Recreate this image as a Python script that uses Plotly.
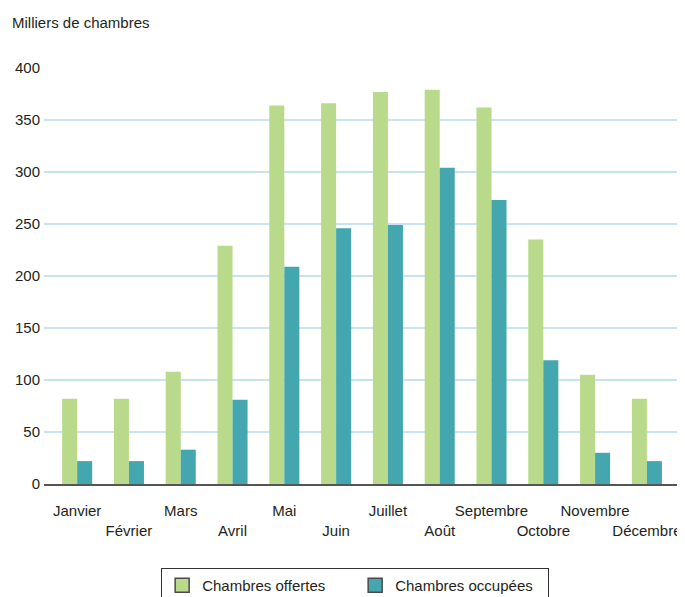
import plotly.graph_objects as go

mois = ["Janvier", "Février", "Mars", "Avril", "Mai", "Juin",
        "Juillet", "Août", "Septembre", "Octobre", "Novembre", "Décembre"]
offertes = [82, 82, 108, 229, 364, 366, 377, 379, 362, 235, 105, 82]
occupees = [22, 22, 33, 81, 209, 246, 249, 304, 273, 119, 30, 22]

y_ticks = [0, 50, 100, 150, 200, 250, 300, 350, 400]

VERT = "#b9da8a"
BLEU = "#44a6ae"
TEXTE = "#231f20"

# labels alternate between two rows
tick_text = [m if i % 2 == 0 else "<br>" + m for i, m in enumerate(mois)]

fig = go.Figure()
fig.add_trace(go.Bar(x=list(range(12)), y=offertes, name="Chambres offertes",
                     marker=dict(color=VERT, line=dict(width=0)), showlegend=False))
fig.add_trace(go.Bar(x=list(range(12)), y=occupees, name="Chambres occupées",
                     marker=dict(color=BLEU, line=dict(width=0)), showlegend=False))

# legend entries only (square swatches with a dark outline)
for nom, couleur in [("Chambres offertes", VERT), ("Chambres occupées", BLEU)]:
    fig.add_trace(go.Scatter(x=[None], y=[None], mode="markers", name=nom,
                             marker=dict(symbol="square", size=14, color=couleur,
                                         line=dict(color="#4a4a4a", width=1.5))))

# page body has an 8px margin, so the figure is a bit smaller than the window
fig.update_layout(
    width=677, height=589,
    margin=dict(l=36, r=6, t=60, b=113, autoexpand=False),
    paper_bgcolor="white", plot_bgcolor="white",
    barmode="group", bargap=0.42, bargroupgap=0,
    font=dict(family="Liberation Sans, Arial, sans-serif", size=15, color=TEXTE),
    showlegend=True,
    legend=dict(orientation="h", x=0.49, xanchor="center", y=-0.202, yanchor="top",
                bordercolor="#333333", borderwidth=1, bgcolor="white",
                font=dict(size=15), entrywidth=148, entrywidthmode="pixels"),
    annotations=[dict(text="Milliers de chambres", xref="paper", yref="paper",
                      x=-0.053, y=1.11, xanchor="left", yanchor="middle",
                      showarrow=False, font=dict(size=15, color=TEXTE))],
)
fig.update_xaxes(range=[-0.64, 11.62], tickvals=list(range(12)), ticktext=tick_text,
                 tickangle=0, automargin=False,
                 showgrid=False, zeroline=False, showline=True,
                 linecolor="#555555", linewidth=2, ticks="", ticklabelstandoff=12)
fig.update_yaxes(range=[0, 400], tickvals=y_ticks, showgrid=True, automargin=False,
                 gridcolor="#c8e4f4", gridwidth=1.5, zeroline=False,
                 showline=False, ticks="", ticklabelstandoff=3)

fig.write_html("out.html")
